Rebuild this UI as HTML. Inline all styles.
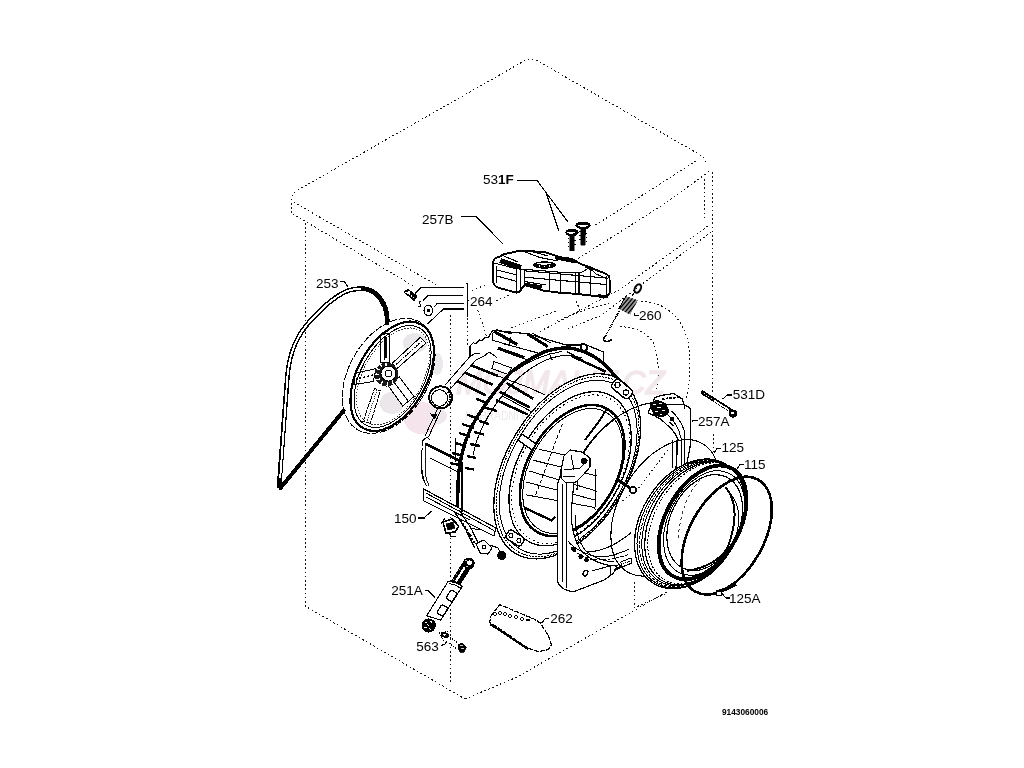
<!DOCTYPE html>
<html><head><meta charset="utf-8"><title>Exploded diagram</title>
<style>
html,body{margin:0;padding:0;background:#fff;width:1024px;height:768px;overflow:hidden}
svg{display:block;will-change:transform}
text{font-family:"Liberation Sans",sans-serif;fill:#000}
.d{fill:none;stroke:#111;stroke-width:1;stroke-dasharray:1.6 2.6;stroke-linecap:butt}
.s{fill:none;stroke:#000;stroke-width:1}
.t{fill:none;stroke:#000;stroke-width:2}
.l{font-size:13.5px}
</style></head>
<body>
<svg width="1024" height="768" viewBox="0 0 1024 768" shape-rendering="crispEdges">
<!-- CABINET (dotted) -->
<g id="cab">
<path class="d" d="M291.5,213 L291.5,199 Q292,193 298,190 L524,61 Q531,57 538,61 L702,156 Q706,159 705,163"/>
<path class="d" d="M293.7,202 L438,286"/>
<path class="d" d="M292.7,213.7 L415,287"/>
<path class="d" d="M696,161 L594,226"/>
<path class="d" d="M709,171.5 L666,202.75 L600,244.7 L560,270"/>
<path class="d" d="M704.5,179 L704.5,221"/>
<path class="d" d="M708,226 L619,290 L537,333"/>
<path class="d" d="M711,232 L645,282 L600.6,315.7 L565.5,329.8"/>
<path class="d" d="M511,328 L558.4,310.4"/>
<path class="d" d="M556.7,321 L583,310.4 L609.4,303.4"/>
<path class="d" d="M477.6,310.4 Q482,320 486.4,336.8"/>
<path class="d" d="M576,301.6 Q579,306 579.5,312.2"/>
<path class="d" d="M712,172 L712,393"/>
<path class="d" d="M713,434 L713,456"/>
<path class="d" d="M305,223 L305,606 L447.5,688.75 Q456,694 465,699"/>
<path class="d" d="M465,699 L516,677.5 L668.5,591"/>
<path class="d" d="M450.2,315 L450.2,685"/>
<path class="d" d="M634.2,582 L634.2,608 L667,593"/>
<path class="d" d="M467.5,318 L467.5,345"/>
<path class="d" d="M472,290.5 L485,285.2"/>
<path class="d" d="M496,301 L509,295"/>
<!-- dashed door circles -->
<path class="d" d="M641,302 Q660,300 677,318 Q690,335 690,362 Q690,385 686,398"/>
<path class="d" d="M620,327 Q640,326 653,342 Q659,356 658,377 Q658,384 656,390"/>
</g>

<!-- WATERMARK -->
<g id="wm">
<text x="456" y="394" textLength="209" lengthAdjust="spacingAndGlyphs" style="font-size:34px;font-style:italic;fill:#f2e7eb;stroke:#f2e7eb;stroke-width:1.5">MOJMALIT.CZ</text>
<text x="465" y="420" textLength="173" lengthAdjust="spacingAndGlyphs" style="font-size:12px;fill:#eee8eb">NÁHRADNÍ DÍLY PRO DOMÁCNOST</text>
<ellipse cx="415" cy="343" rx="12" ry="10" fill="#e9e7eb"/>
<ellipse cx="437" cy="364" rx="6" ry="11" fill="#ebe9ec"/>
<ellipse cx="392" cy="403" rx="12" ry="11" fill="#ebe7eb"/>
<ellipse cx="397" cy="387" rx="7" ry="5" fill="#f4e4ea"/>
<ellipse cx="421" cy="418" rx="17" ry="16" fill="#f5e4eb"/>
<ellipse cx="438" cy="416" rx="9" ry="8" fill="#eee8ec"/>
</g>
<!-- BELT 253 -->
<g id="belt">
<path d="M279,488 L287.5,375 C290,350 298,334 311,320 C322,308 334,297 346,291.5 C352,289 358,288.5 364,288.7 C373,289.5 381,297 385,307 C387,313 387.5,320 387,325" stroke="#000" stroke-width="4.8" fill="none"/>
<path d="M280.2,478 L287.5,375 C290,350 298,334 311,320 C322,308 334,297 346,291.5 C352,289 357,288.6 361,288.6" stroke="#fff" stroke-width="1.9" fill="none"/>
<path d="M280.5,488 L343.7,410.6" stroke="#000" stroke-width="4" stroke-linecap="round"/>
<path d="M340,281 L344,281 L348,287" class="s"/>
</g>
<!-- PULLEY -->
<g id="spokes" fill="#fff" stroke="#000" stroke-width="1">
<path d="M380.4,362 L380.4,335 L389.8,333 L389.8,362 Z"/>
<path d="M384.5,360 L384.5,336 M386,358 L386,337" stroke-width="1.4"/>
<path d="M392.5,363 L420.3,337.4 L426,343 L396.5,369 Z"/>
<path d="M396,364.5 L422,341" stroke-dasharray="2 1"/>
<path d="M375.8,368.6 L354.5,373.5 L354,384.5 L373.4,381.5 Z"/>
<path d="M373,375 L356,379" stroke-dasharray="2.5 1.5" stroke-width="1.4"/>
<path d="M374.6,388.5 L363,421.5 L370.5,423 L380.4,390.9 Z" stroke-dasharray="3 0.8"/>
<path d="M377,390 L367,421" stroke-width="0.8" stroke-dasharray="1 1"/>
<path d="M388.6,386.2 L402.7,406 L414,396.6 L399.2,376.8 Z"/>
<path d="M393.5,381.5 L408.5,401.5"/>
</g>
<g id="pulley" fill="none" stroke="#000">
<ellipse rx="39.8" ry="62.2" transform="translate(388.7,375.9) rotate(29.8)" stroke-width="1" stroke-dasharray="7 1.5"/>
<ellipse rx="34.6" ry="59.4" transform="translate(392.2,376.3) rotate(29)" stroke-width="2.2"/>
<ellipse rx="31.5" ry="55.5" transform="translate(392.6,376.5) rotate(29)" stroke-width="1"/>
<ellipse rx="29.5" ry="53" transform="translate(393,376.5) rotate(29)" stroke-width="0.8" stroke-dasharray="1.5 1.5"/>
</g>
<g id="hub">
<circle cx="386.5" cy="374.5" r="12" fill="#1a1a1a"/>
<circle cx="388.5" cy="373.5" r="7.5" fill="#fff" stroke="#000" stroke-width="1"/>
<circle cx="388.5" cy="373.5" r="3.2" fill="none" stroke="#000" stroke-width="1"/>
<path d="M376,368 L379.5,370 M375.5,374 L379,374.5 M376.5,380 L380,379 M381,385 L382.5,381 M387,386 L387.5,382 M393,384 L392,380.5 M380,364 L382,367 M386,362.5 L386,366" stroke="#fff" stroke-width="1.3"/>
</g>


<!-- TUB 150 -->
<g id="tub" fill="none" stroke="#000">
<!-- back shell outline -->
<path d="M445.3,384.8 L469.9,356.6 L474,354 L480.4,353.1" stroke-width="1"/>
<path d="M450.2,389.1 L476,360 L484,356.25 L489,352 L497,357.5" stroke-width="1"/>
<path d="M470,356 L470,346 L473.4,342.6 L476,344 L479,340 L482.2,340.8 L485,337 L488,338 L492.7,330.3" stroke-width="1.2"/>
<path d="M492.7,330.3 L527.9,333.8 L549,340 L566,345 L580.6,345.1 L582,343 L603.5,352.1 L603.5,363.7" stroke-width="1.2"/>
<path d="M493.7,331.2 L517.1,344.5" stroke-width="3.2"/>
<path d="M496,329.5 L512,334" stroke-width="1.2"/>
<path d="M492,333 L492,340 L509,345 L510.3,337" stroke-width="1"/>
<path d="M527.5,334 L547.8,346.6" stroke-width="3"/>
<path d="M532,333 L551,343" stroke-width="1"/>
<path d="M497.8,348.1 L524.4,357.5" stroke-width="3"/>
<path d="M502.5,343.4 L543.1,354.4 M505,352 L528,360" stroke-width="1.1"/>
<path d="M494,361.5 L511.4,368 L508,374.5 L491.8,368.5 Z" stroke-width="1"/>
<path d="M549,353.1 L552.5,360.2 M566.6,351.4 L605.2,372.5" stroke-width="1.2"/>
<path d="M571.25,355.9 L605.6,371.6" stroke-width="2.4"/>
<circle cx="584" cy="347.5" r="3.2" fill="#fff" stroke-width="1.5"/>
<path d="M422.5,441 L421,467.5 Q421.5,480 427.2,486.25" stroke-width="1" stroke-dasharray="5 2"/>
<path d="M425.6,445 L425,470 Q425.5,480 429,486" stroke-width="0.9"/>
<path d="M422.5,441 L427,437 L430,440" stroke-width="1.2"/>
<path d="M455.8,437.5 L455.8,462" stroke-width="1"/>
<!-- ribs -->
<g stroke-width="2.6">
<path d="M471.6,365.4 L498,376"/>
<path d="M464.6,372.5 L492.7,384.8"/>
<path d="M457.6,381.2 L485.7,395.3"/>
<path d="M506.8,383 L533.2,398.8"/>
<path d="M499.8,391.8 L529.6,407.4"/>
<path d="M496.2,400 L527.9,414.6"/>
<path d="M425.2,443.4 L462,462"/>
</g>
<g stroke-width="1">
<path d="M498,376 L530,388 L545,395"/>
<path d="M502,395.8 L531,411.4"/>
<path d="M430,458 L458,472"/>
<path d="M513.7,372 Q535,356 561.5,351.4"/>
</g>
<!-- band -->
<path d="M628.0,390.0 C626.8,388.7 623.3,384.5 621.0,382.0 C618.7,379.5 616.6,377.8 614.0,375.0 C611.4,372.2 609.6,368.7 605.6,365.3 C601.6,361.9 595.2,357.1 590.0,354.4 C584.8,351.7 579.1,349.9 574.4,348.9 C569.7,347.8 566.6,347.7 561.9,348.1 C557.2,348.5 551.5,349.4 546.2,351.2 C541.0,353.1 536.3,355.6 530.6,359.0 C524.9,362.4 517.6,366.4 511.9,371.6 C506.2,376.8 501.4,383.4 496.2,390.0 C491.1,396.6 485.4,404.3 481.0,411.0 C476.6,417.7 473.0,423.5 470.0,430.0 C467.0,436.5 464.9,442.5 463.0,450.0 C461.1,457.5 459.4,464.2 458.5,475.0 C457.6,485.8 457.7,508.3 457.5,515.0" stroke-width="3.4"/>
<path d="M582.0,358.0 C579.7,357.6 572.8,355.6 568.0,355.5 C563.2,355.4 558.0,356.1 553.0,357.5 C548.0,358.9 543.2,361.1 538.0,364.0 C532.8,366.9 527.2,370.7 522.0,375.0 C516.8,379.3 511.7,384.7 507.0,390.0 C502.3,395.3 497.8,401.3 494.0,407.0 C490.2,412.7 486.8,418.5 484.0,424.0 C481.2,429.5 478.8,434.8 477.0,440.0 C475.2,445.2 473.7,452.5 473.0,455.0" stroke-width="1.1"/>
<!-- band teeth -->
<g stroke-width="2.4">
<path d="M476,398.8 L485,402.3 M467,414.6 L479,419 M462,424 L474,428 M459,433 L470,436.5 M455,443 L466,446 M452,453 L462,455.5 M450,463 L459,465"/>
<path d="M485,407.6 L497,411.1 M479,421 L489,424 M474,432 L484,434.5 M470,444 L480,446 M467,456 L476,458 M465,468 L474,469.5"/>
</g>
<!-- grommet -->
<ellipse cx="440.6" cy="397.3" rx="11.5" ry="11" stroke-width="1.8" fill="#fff"/>
<ellipse cx="439.5" cy="398" rx="8" ry="8.3" stroke-width="1"/>
<path d="M448,392 A8,8 0 0 1 446,405" stroke-width="2" stroke-dasharray="1.5 1"/>
<path d="M441,409.7 L428.5,437 M437.5,409 L425,436" stroke-width="1"/>
<path d="M431,414 L437,415 L434,419 Z" fill="#000" stroke-width="1"/>
<!-- bottom rail -->
<path d="M423.7,489 L496,528 L494,536 L423.7,500.8 Z" stroke-width="1.2" fill="#fff"/>
<path d="M426,493 L494,530.5 M426,497 L470,520" stroke-width="1"/>
<path d="M421.7,450 Q420,470 425.6,485" stroke-width="1"/>
<!-- band lower double -->
<path d="M462,462 L462,512" stroke-width="1.1"/>
<!-- lower parts (pump/hoses) -->
<path d="M443,522 L452,519 L458.8,526 L455,532 L446,533 Z" fill="#fff" stroke-width="1.6"/>
<path d="M446,524 L453,522 L455,528 L448,530 Z" fill="#000" stroke-width="0.8"/>
<path d="M445,518 L441,524 M449,533 L451,537 L456,536" stroke-width="1.1"/>
<path d="M454,511 L466,530 L474.5,547.7 M459,510 L471,528 L479,545" stroke-width="1.2"/>
<path d="M461,520 L468,532 L475,544" stroke-width="2" stroke-dasharray="2 1.5"/>
<path d="M476,543.7 L484,540 L492,548 L488,554 L480,553 Z" fill="#fff" stroke-width="1.2"/>
<circle cx="484" cy="547" r="2" stroke-width="1"/>
<path d="M490,545 L498,548 L500,552" stroke-width="1.2"/>
<circle cx="501.8" cy="555.5" r="4" fill="#000"/>
<path d="M466,532 L472,536 M470,528 L480,530" stroke-width="1"/>
<!-- front ring -->
<g>
<ellipse rx="60.6" ry="101.4" transform="translate(567.2,466.3) rotate(30.6)" stroke-width="1.3" fill="#fff"/>
<ellipse rx="59.1" ry="98.5" transform="translate(567.7,466.7) rotate(30.5)" stroke-width="1" stroke-dasharray="2 1"/>
<ellipse rx="57.3" ry="95.0" transform="translate(568.2,467.2) rotate(30.4)" stroke-width="1"/>
<ellipse rx="51.4" ry="83.7" transform="translate(570.1,468.7) rotate(30.0)" stroke-width="1.3"/>
<ellipse rx="49.9" ry="80.7" transform="translate(570.6,469.1) rotate(29.9)" stroke-width="1" stroke-dasharray="1.5 3"/>
<ellipse rx="44.8" ry="70.8" transform="translate(572.2,470.5) rotate(29.6)" stroke-width="2.5" fill="#fff"/>
<ellipse rx="43.1" ry="67.4" transform="translate(572.8,471.0) rotate(29.5)" stroke-width="1"/>
</g>
<!-- drum interior -->
<g stroke-width="1">
<path d="M538.7,449.2 L588,460.2"/>
<path d="M533.2,460.2 L597,476"/>
<path d="M529.6,471.1 L597,491.2"/>
<path d="M526,482 L595,500"/>
<path d="M526,494.8 L595.2,507.6"/>
<path d="M562.4,423.7 L535,496.7" stroke-dasharray="4 2"/>
<path d="M595.2,469.3 L595,510"/>
<path d="M585,440 L600,420 L606,410" stroke-width="2"/>
</g>
<path d="M524,507.6 L551.5,520.4 L555,516.7" stroke-width="2.4"/>
<!-- small bosses on ring -->
<path d="M522,434 L536,444 L532,450 L518,440 Z" stroke-width="1.2" fill="#fff"/>
<rect x="-11" y="-5.5" width="22" height="11" rx="4" transform="translate(622,389) rotate(40)" stroke-width="1.5" fill="#fff"/>
<circle cx="617.5" cy="385" r="2.5" stroke-width="1.2"/><circle cx="626" cy="392.5" r="2.5" stroke-width="1.2"/>
<rect x="-9" y="-5" width="18" height="10" rx="3" transform="translate(515,538) rotate(32)" stroke-width="1.5" fill="#fff"/>
<circle cx="511" cy="535.5" r="2" stroke-width="1"/><circle cx="519" cy="540.5" r="2" stroke-width="1"/>
</g>


<path d="M577,490 C577,475 579,462 583.4,452.6 M613.7,419.4 C625,411 637,405 652,402.5" fill="none" stroke="#000" stroke-width="1.1"/>
<path d="M585.6,552 C595,552 605,549 613,545 C620,541 626,537 631.2,532.5" fill="none" stroke="#000" stroke-width="1.1"/>
<path d="M583.4,452.6 C590,442 600,430 613.7,419.4" fill="none" stroke="#000" stroke-width="1.8"/>
<!-- FRONT BRACKET (weight) -->
<g id="fbracket" stroke="#000" fill="#fff">
<path d="M560,476 L557.3,485 L557.3,580 Q559,590 573.7,591.7 L604.2,580 L613.6,573 L617,566 C602,566 588,559 580,549 C573,538 571,525 571.4,510 L573.7,484 L570,476 Z" stroke-width="1.2"/>
<g fill="none" stroke-width="1">
<path d="M562,484 L562,582 M566.7,484 L566.7,588"/>
<path d="M575.5,515 C575,530 578,541 585,550 C592,557 602,561 614,562"/>
<path d="M591.7,571 L610.4,565.8 L610.4,575"/>
<path d="M567.7,540.8 C572,546 576,549 581.25,551.25 C587,554 592,556 596.9,556.5 C602,557 607,556.5 612.5,555.4 C618,553.5 624,551.5 629.2,549.2"/>
<path d="M570.8,547 C576,553 582,556 590,559 C600,561 612,560 629.2,554.4" stroke-dasharray="3 1.5"/>
</g>
<path d="M561,470 L564,456 L570,450 L582,452 L590,458 L590,467 L584,474 L576,482 L566,483 L561,478 Z" stroke-width="1.2"/>
<path d="M564,470 L580,468 L588,460 M571,455 L574,470 M563,476 L575,477" fill="none" stroke-width="1"/>
<circle cx="584" cy="461" r="2.5" fill="#000"/>
<circle cx="573.7" cy="549.5" r="1.9" fill="#000"/><circle cx="580.8" cy="556.6" r="1.9" fill="#000"/><circle cx="586.6" cy="560" r="1.9" fill="#000"/>
<ellipse cx="585.4" cy="573.1" rx="2" ry="3" transform="rotate(30 585.4 573.1)" fill="#fff" stroke-width="1.5"/>
<path d="M614.6,570 L620.8,566.9" stroke-width="2"/>
<path d="M620.8,562 L631,558 L632,563 L622,567 Z" fill="#fff" stroke-width="1"/><path d="M623,564 L630,561" stroke-dasharray="1 1"/>
</g>
<!-- small bolt on ring -->
<path d="M618,480 L633,490" stroke="#000" stroke-width="3"/>
<circle cx="633" cy="490" r="3" fill="#fff" stroke="#000" stroke-width="1.5"/>
<!-- BRACKET 257A -->
<g id="b257a" stroke="#000" fill="#fff">
<path d="M648.75,411 L655,397.7 L660.2,395.6 L673.75,393.5 L682,398.75 L684.2,405 L689.4,407.6 L690.4,409 L690.4,445 L686,468 L676,468 L678,439.4 C675,432 671.7,429 661.25,419.6 C656,416 652,414.5 648.75,413.3 Z" stroke-width="1.2"/>
<g fill="none" stroke-width="1">
<path d="M671.7,411.25 C678,417 682,423.75 684,430 L685,466"/>
<path d="M666,413 C674,420 679,428 681,438 L681,466"/>
<path d="M656,404 L684,404 M684.2,405 L684,410"/>
<path d="M672,440 L672,468 M676,440 L676,468"/>
</g>
<path d="M650,404 L657,400 L666,404 L669,412 L663,417 L654,415 Z" fill="#000" stroke-width="1"/>
<path d="M653,405 L656,404 M657,408 L661,407 M655,411 L658,412 M662,410 L665,411 M660,414 L662,414 M659,403 L662,404" stroke="#fff" stroke-width="1"/>
<path d="M662,399 L680,397" stroke-width="1.8" stroke-dasharray="2.5 1.2"/>
<circle cx="672" cy="419" r="1.8" fill="#000"/>
<path d="M670,422 L673,426" stroke-width="1.5"/>
</g>
<!-- 125 thin ellipse -->
<ellipse rx="45.2" ry="74.3" transform="translate(665,507.8) rotate(30.3)" fill="none" stroke="#000" stroke-width="1.1"/>
<path d="M667.7,450 L639,487.7 L619.5,503.3" class="d"/>
<!-- SEAL 115 -->
<g id="seal" fill="none" stroke="#000">
<ellipse rx="48.8" ry="69.7" transform="translate(689.8,523.9) rotate(31.3)" fill="#fff" stroke-width="1.3"/>
<ellipse rx="47.6" ry="68.9" transform="translate(691.1,523.8) rotate(31.0)" stroke-width="1"/>
<ellipse rx="46.5" ry="68.0" transform="translate(692.4,523.6) rotate(30.7)" stroke-width="1" stroke-dasharray="3 1.5"/>
<ellipse rx="45.3" ry="67.2" transform="translate(693.6,523.4) rotate(30.5)" stroke-width="1"/>
<ellipse rx="43.9" ry="66.2" transform="translate(695.2,523.3) rotate(30.1)" stroke-width="1.2"/>
<ellipse rx="42.4" ry="65.1" transform="translate(696.8,523.1) rotate(29.8)" stroke-width="1" stroke-dasharray="2 1.5"/>
<ellipse rx="37.2" ry="61.4" transform="translate(702.6,522.4) rotate(28.5)" stroke-width="3.8"/>
<ellipse rx="36" ry="55.5" transform="translate(704.2,523) rotate(26.5)" stroke-width="1"/>
<ellipse rx="34.4" ry="50.4" transform="translate(704.7,522.6) rotate(25.3)" stroke-width="1.2"/>
<path d="M725.6,487 C736,500 738,520 727.6,547.6 C720,560 705,568 686.6,571" stroke-width="2"/>
<path d="M729,492 C741,505 742,522 733,545" stroke-width="1"/>
<path d="M700,480 C690,490 680,510 678,540" stroke-width="0.8" stroke-dasharray="3 3"/>
</g>
<!-- RING 125A -->
<ellipse rx="37" ry="64.2" transform="translate(726.7,535.6) rotate(29.4)" fill="none" stroke="#000" stroke-width="2.6"/>
<path d="M716,592.5 Q726,590 736,584" fill="none" stroke="#000" stroke-width="3.5"/>
<rect x="716" y="591.5" width="5" height="3.5" fill="#fff" stroke="#000" stroke-width="1"/>
<!-- BOLT 531D -->
<g stroke="#000">
<path d="M702.5,392.5 L734,412.5" stroke-width="4" stroke-linecap="round"/>
<path d="M714,400.5 L731,411.3" stroke="#fff" stroke-width="1.6"/>
<path d="M704,393.5 L712,398.6" stroke="#fff" stroke-width="0.9" stroke-dasharray="1 1.2"/>
<path d="M730,409 L736,411 L737,415 L733,417.5 L729,415 Z" fill="#000" stroke-width="1"/>
<circle cx="732.5" cy="413" r="1.3" fill="#fff" stroke="none"/>
</g>
<!-- leaders right -->
<g fill="none" stroke="#000" stroke-width="1.1">
<path d="M722.8,399 L727,395 L732,395"/>
<path d="M691.6,422.5 L693,420.5 L698,420.5"/>
<path d="M714.2,453 L717,448.5 L721,448.5"/>
<path d="M736.5,470 L740,464.5 L744,464.5"/>
<path d="M721,592.5 L726,598 L730,598"/>
</g>


<!-- DISPENSER 257B -->
<g id="disp" stroke="#000" fill="#fff">
<path d="M493.2,262 Q493.5,258 498.7,257.1 L503.8,254.3 L516.7,251.4 L525.2,250.7 L545.3,252.2 L560.2,257.1 L572.5,259.1 L580.7,263.9 L588.9,266.7 L594.4,269.4 L604,272.8 L609.4,276.2 L610.1,292 L606.7,297.4 L594.4,296 L578,294 L558.8,292.6 L543.8,290.6 L530.1,286.5 L524.6,285.1 L519.2,292 L516.4,292.6 L498.7,287.9 Q493.2,286 493.2,281 Z" stroke-width="1.9"/>
<g fill="none" stroke-width="1.1">
<path d="M494,263 L516.4,268.7 L558.8,272.1 L580.7,272.8 L588.9,268"/>
<path d="M496.5,266 L496.5,283 M516.7,267 L516.7,292 M520.5,269 L520.5,291 M524.5,270 L524.5,285 M549.3,272 L549.3,290.5 M560.2,272.5 L560.2,292.6 M575.2,273 L575.2,294 M579,273 L579,294 M590.3,268 L590.3,295.5 M606.7,276 L606.7,297"/>
<path d="M497,270 L516.7,275 M497,276 L516.7,281.5 M524.5,270.8 L606,278 M524.5,277.2 L606,284.5 M524.5,281.5 L546,285"/>
<path d="M588.9,266.7 L596,274 L608,279"/>
<path d="M525.2,252 L540,257.5 L558,261 M530,251 L548,256"/>
<path d="M503.8,256 L518,262"/>
</g>
<path d="M500.2,260.5 L521,267.5" stroke-width="5"/>
<path d="M555,257.8 L576,262" stroke-width="3"/>
<path d="M525.2,284.5 L541.7,287" stroke-width="3.5"/>
<path d="M598,295.5 L608,297" stroke-width="3"/>
<path d="M585,266 L593,270" stroke-width="2.5"/>
<ellipse cx="544.5" cy="265" rx="10.8" ry="3.2" fill="#000" stroke-width="1"/>
<ellipse cx="544" cy="263.6" rx="7.5" ry="1" fill="#fff" stroke="none"/>
<circle cx="539.5" cy="266.2" r="0.8" fill="#fff" stroke="none"/><circle cx="544.5" cy="266.4" r="0.8" fill="#fff" stroke="none"/><circle cx="549.5" cy="266.2" r="0.8" fill="#fff" stroke="none"/>
</g>
<!-- SCREWS 531F -->
<g id="screws" fill="#000" stroke="#000">
<path d="M580.8,227 L585.6,227 L585.4,245.3 L581,245.3 Z" stroke-width="0.5"/>
<path d="M580.5,231 L579.5,232 M580.5,235 L579.5,236 M580.5,239 L579.5,240 M585.8,233 L586.6,234 M585.8,237 L586.6,238 M585.8,241 L586.6,242" stroke-width="1"/>
<ellipse cx="583.1" cy="225.4" rx="7.7" ry="3.9" stroke="none"/>
<ellipse cx="583.1" cy="225.6" rx="5" ry="1.1" fill="#fff" stroke="none"/>
<path d="M569.6,234 L574.4,234 L574.2,250.8 L569.8,250.8 Z" stroke-width="0.5"/>
<path d="M569.3,238 L568.3,239 M569.3,242 L568.3,243 M569.3,246 L568.3,247 M574.6,240 L575.4,241 M574.6,244 L575.4,245" stroke-width="1"/>
<ellipse cx="572" cy="232.5" rx="6.8" ry="3.6" stroke="none"/>
<ellipse cx="571" cy="232.6" rx="4" ry="1" fill="#fff" stroke="none"/>
</g>
<!-- leaders top -->
<g fill="none" stroke="#000" stroke-width="1.1">
<path d="M517.2,180.5 L537.1,180.5 L567.6,221.5"/>
<path d="M546.5,193.8 L558.7,230.7"/>
<path d="M461.3,216.4 L476,216.4 L503,244"/>
<path d="M466.3,283.4 L467.4,283.4 L467.4,317.4 M467.4,300.4 L469,300.4"/>
<path d="M463.8,287.4 L421.1,287.4 L415.3,293.5"/>
<path d="M462.7,295.3 L428.3,295.3 L423.3,300.4"/>
<path d="M463.8,303.3 L437.4,303.3 L433.8,307.3"/>
<path d="M463.8,308.9 L442.8,308.9" stroke-width="2.6"/>
<path d="M443.5,308.9 L427.3,324.2"/>
<path d="M633.8,312.8 L635,315.5 L639.2,315.5"/>
</g>
<!-- 264 small parts -->
<g stroke="#000">
<path d="M404,292 L408,289.5 L417,296 L414,300.5 Z" fill="#000" stroke-width="1"/>
<path d="M405,292.5 L409.5,291 L410,295 Z" fill="#fff" stroke="none"/>
<path d="M411,295.5 L412,296.5 M413.5,297.5 L414.5,298.5" stroke="#fff" stroke-width="1"/>
<path d="M421.5,301.5 Q419,301 419.5,303.5 Q422,305 420,307 L418.5,306.5" fill="none" stroke-width="1"/>
<ellipse cx="428.3" cy="310.5" rx="4.3" ry="5.2" fill="#fff" stroke-width="1.1"/>
<circle cx="428.5" cy="310.5" r="1.3" fill="#000"/>
</g>
<!-- SPRING 260 -->
<g id="spring" stroke="#000" fill="none">
<ellipse cx="637.8" cy="288.5" rx="2.8" ry="4.6" transform="rotate(30 637.8 288.5)" stroke-width="2" shape-rendering="auto"/>
<path d="M634.5,292.5 L632,296" stroke-width="1"/>
<clipPath id="spc"><path d="M618.7,308.8 L625.9,296.1 L637.8,300.3 L630.1,314.7 Z"/></clipPath>
<path d="M618.7,308.8 L625.9,296.1 L637.8,300.3 L630.1,314.7 Z" fill="#9a9a9a" stroke="none"/>
<g clip-path="url(#spc)" stroke-width="1.2" shape-rendering="auto"><path d="M605.0,312.0 L625.0,288.0 M607.2,314.2 L627.2,290.2 M609.4,316.4 L629.4,292.4 M611.6,318.6 L631.6,294.6 M613.8,320.8 L633.8,296.8 M616.0,323.0 L636.0,299.0 M618.2,325.2 L638.2,301.2 M620.4,327.4 L640.4,303.4 M622.6,329.6 L642.6,305.6 M624.8,331.8 L644.8,307.8 M627.0,334.0 L647.0,310.0 M629.2,336.2 L649.2,312.2 M631.4,338.4 L651.4,314.4 M633.6,340.6 L653.6,316.6 M635.8,342.8 L655.8,318.8 M638.0,345.0 L658.0,321.0"/></g>
<path d="M618.7,308.8 L625.9,296.1" stroke-width="1"/>
<path d="M619.2,311.3 L605.6,335.8" stroke-width="1.6" stroke-dasharray="1 0.8"/>
<path d="M606,336 Q602,339 604.5,341 Q608,342.5 612,339.5" stroke-width="1.6"/>
</g>
<!-- SHOCK 251A -->
<g id="shock" stroke="#000">
<path d="M451.2,581.6 L463.2,562.6 L470.8,567.4 L458.8,586.4 Z" fill="#000" stroke-width="1"/>
<path d="M455.8,581.5 L465.2,566.5" stroke="#fff" stroke-width="2.2"/>
<path d="M452,578 L454,579.5 M455,573 L457,574.5 M458,568.5 L460,570" stroke="#fff" stroke-width="0.8"/>
<path d="M426.6,615.8 L448.3,581.2 Q456,582 462.3,586.6 L440.7,620.1 Z" fill="#fff" stroke-width="1.1"/>
<path d="M449.5,583.5 Q455,584.5 460.5,588" fill="none" stroke-width="1"/>
<circle cx="468.8" cy="563.4" r="5.4" fill="#000"/>
<circle cx="469.5" cy="562.6" r="2.4" fill="#fff" stroke="none"/>
<path d="M465,560 L467,561 M466,567 L468,566" stroke="#fff" stroke-width="0.8"/>
<rect x="-5" y="-3.6" width="10" height="7.2" rx="2" fill="#fff" stroke-width="1.2" transform="translate(451.5,595.8) rotate(-58)"/>
<rect x="-5" y="-3.6" width="10" height="7.2" rx="2" fill="#fff" stroke-width="1.2" transform="translate(442.3,610.4) rotate(-58)"/>
<circle cx="428.8" cy="625.5" r="6.6" fill="#000"/>
<path d="M425,622 L427,623 M430,621 L432,622.5 M424.5,627 L427,627.5 M429,628 L431,630 M427,624.5 L429,625.5" stroke="#fff" stroke-width="1"/>
<path d="M425.1,590.3 L428,590.3 L434.9,597.6" fill="none" stroke-width="1.1"/>
</g>
<!-- 563 -->
<g stroke="#000" fill="none" stroke-width="1.1">
<path d="M441,645.5 L445,644.2 L447.3,640.5"/>
<path d="M439.1,633.2 L443.7,640.5 M439.5,632.5 L449,631.5" stroke-dasharray="1 1"/>
<ellipse cx="445" cy="635" rx="4" ry="2.2" fill="#000" transform="rotate(15 445 635)"/>
<ellipse cx="444.5" cy="634.8" rx="1.8" ry="0.8" fill="#fff" stroke="none"/>
<path d="M448.2,636 L458.3,643.2 M449.2,643.2 L456.4,648.7" stroke-dasharray="1.2 1.2"/>
<path d="M458.5,644 L462,642.5 L466.5,647 L464,652 L460,652.4 L458,648 Z" fill="#000" stroke-width="0.8"/>
<path d="M460,646 L463,645 M461,649 L464,648" stroke="#fff" stroke-width="0.8"/>
</g>
<!-- 262 -->
<g stroke="#000" fill="#fff">
<path d="M490.7,616.4 L499.5,604.6 L534.7,619.3 L540.5,623.2 L548.4,635.9 L551.3,644.7 L548.4,649.6 L538.6,651.5 L528.8,648.6 L489.8,622.2 Z" stroke-width="1.2" stroke-dasharray="5 1.2"/>
<path d="M490,624 L528,649" fill="none" stroke-width="2"/>
<g fill="none" stroke-width="1.1">
<ellipse cx="495" cy="614" rx="1.2" ry="2"/><ellipse cx="500" cy="613" rx="1.2" ry="2"/><ellipse cx="505" cy="614" rx="1.2" ry="2"/><ellipse cx="510" cy="616" rx="1.2" ry="2"/><ellipse cx="516" cy="617" rx="1.2" ry="2"/><ellipse cx="522" cy="619" rx="1.2" ry="1.5"/><ellipse cx="528" cy="620" rx="1.5" ry="1"/>
</g>
<path d="M541.5,623.2 L545,619 L549.3,618.3" fill="none" stroke-width="1.1"/>
</g>
<!-- 150 leader -->
<path d="M418.4,517.6 L424.8,517.6" fill="none" stroke="#000" stroke-width="2"/><path d="M424.3,517.6 L431.6,511.2" fill="none" stroke="#000" stroke-width="1.1"/>

<!-- LABELS -->
<g class="l">
<text x="482.9" y="184">53<tspan font-weight="bold">1F</tspan></text>
<text x="421.9" y="224">257B</text>
<text x="316" y="288">253</text>
<text x="469.9" y="306">264</text>
<text x="639.1" y="320">260</text>
<text x="732.75" y="398.8">531D</text>
<text x="697.9" y="425.7">257A</text>
<text x="721.6" y="451.5">125</text>
<text x="744" y="468.5">115</text>
<text x="394" y="522.7">150</text>
<text x="391.3" y="595">251A</text>
<text x="550.2" y="623">262</text>
<text x="416.3" y="650.5">563</text>
<text x="728.9" y="603">125A</text>
<text x="722" y="715" style="font-size:8.3px;font-weight:bold">9143060006</text>
</g>
</svg>
</body></html>
